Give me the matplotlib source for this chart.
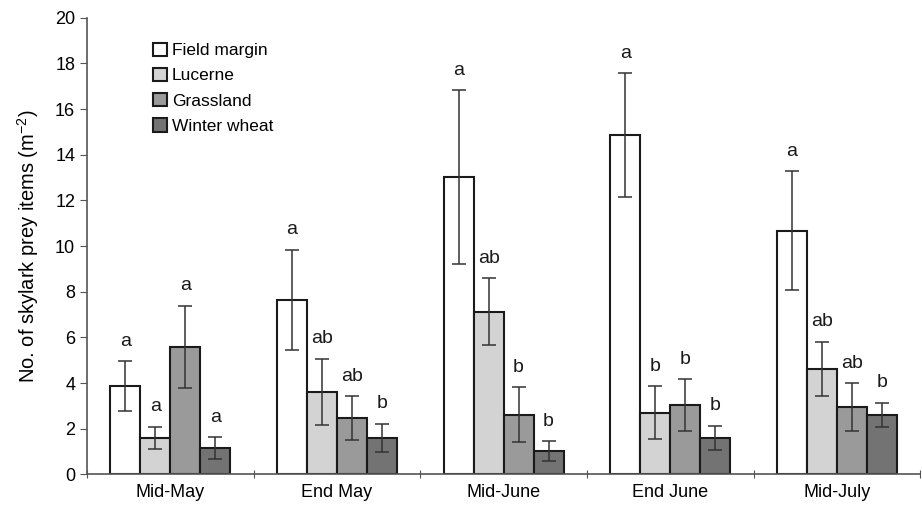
import matplotlib.pyplot as plt
import numpy as np

periods = ['Mid-May', 'End May', 'Mid-June', 'End June', 'Mid-July']
habitats = ['Field margin', 'Lucerne', 'Grassland', 'Winter wheat']

field_margin = [3.87, 7.64, 13.03, 14.87, 10.67]
lucerne = [1.60, 3.62, 7.12, 2.70, 4.63]
grassland = [5.59, 2.47, 2.62, 3.04, 2.94]
winter_wheat = [1.15, 1.60, 1.01, 1.60, 2.60]

fm_err = [1.10, 2.20, 3.80, 2.71, 2.60]
lu_err = [0.50, 1.45, 1.47, 1.16, 1.18]
gr_err = [1.80, 0.95, 1.19, 1.14, 1.05]
ww_err = [0.47, 0.62, 0.44, 0.53, 0.54]

fm_letters = ['a', 'a', 'a', 'a', 'a']
lu_letters = ['a', 'ab', 'ab', 'b', 'ab']
gr_letters = ['a', 'ab', 'b', 'b', 'ab']
ww_letters = ['a', 'b', 'b', 'b', 'b']

values = [field_margin, lucerne, grassland, winter_wheat]
errors = [fm_err, lu_err, gr_err, ww_err]
letters = [fm_letters, lu_letters, gr_letters, ww_letters]
colors = ['#ffffff', '#d2d3d2', '#9a9a9a', '#737373']

plt.rcParams['font.family'] = ['Liberation Sans', 'DejaVu Sans']
plt.rcParams['mathtext.fontset'] = 'custom'
plt.rcParams['mathtext.rm'] = 'Liberation Sans'

fig = plt.figure(figsize=(9.22, 5.09), dpi=100)
ax = fig.add_axes([0.0944, 0.0678, 0.9036, 0.8975])

x = np.arange(len(periods)) + 0.5
width = 0.18
for i in range(4):
    pos = x + (i - 1.5) * width
    ax.bar(pos, values[i], width, color=colors[i], edgecolor='#1a1a1a',
           linewidth=1.5, label=habitats[i], zorder=2)
    ax.errorbar(pos, values[i], yerr=errors[i], fmt='none', ecolor='#333333',
                elinewidth=1.1, capsize=5, capthick=1.1, zorder=3)
    for p, v, e, t in zip(pos, values[i], errors[i], letters[i]):
        ax.text(p, v + e + 0.5, t, ha='center', va='bottom', fontsize=14, color='#1a1a1a')

ax.set_xlim(0, 5)
ax.set_ylim(0, 20)
ax.set_yticks(np.arange(0, 21, 2))
ax.set_xticks(np.arange(0, 6))
ax.set_xticklabels([])
ax.set_xticks(x, minor=True)
ax.set_xticklabels(periods, minor=True)
ax.tick_params(axis='x', which='minor', length=0, pad=7, labelsize=13)
ax.tick_params(axis='x', which='major', length=6, direction='inout', color='#555555')
ax.tick_params(axis='y', labelsize=13, length=5, color='#555555')
ax.set_ylabel('No. of skylark prey items (m$^{\\mathregular{-2}}$)', fontsize=14.5, labelpad=10)

for s in ['top', 'right']:
    ax.spines[s].set_visible(False)
for s in ['left', 'bottom']:
    ax.spines[s].set_color('#555555')
    ax.spines[s].set_linewidth(1.2)

ax.legend(loc='upper left', bbox_to_anchor=(0.158, 0.93), bbox_transform=fig.transFigure,
          frameon=False, fontsize=12.5, handlelength=0.8, handleheight=0.8,
          handletextpad=0.3, labelspacing=0.55, borderaxespad=0)

fig.savefig('out.png', dpi=100)
